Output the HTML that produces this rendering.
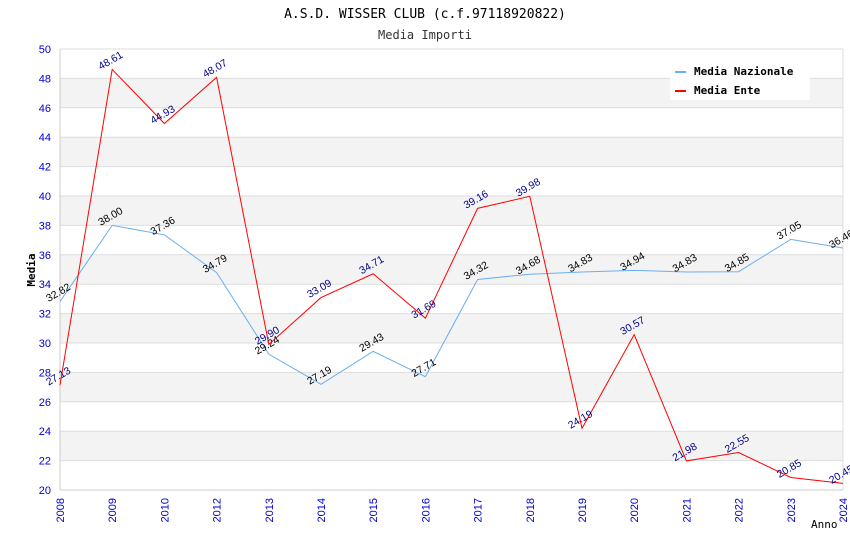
<!DOCTYPE html>
<html><head><meta charset="utf-8"><style>
body{margin:0;background:#fff}
svg{display:block;font-family:"DejaVu Sans Mono","Liberation Mono",monospace}
</style></head><body>
<svg id="c" width="850" height="550">
<text x="425" y="18" text-anchor="middle" font-size="13">A.S.D. WISSER CLUB (c.f.97118920822)</text>
<text x="425" y="39" text-anchor="middle" font-size="12" fill="#333">Media Importi</text>
<g id="bands"></g><g id="grid"></g><g id="axes"></g><g id="series"></g>
<text x="35" y="270" transform="rotate(-90 35 270)" text-anchor="middle" font-size="11" font-weight="bold">Media</text>
<text x="811" y="528" font-size="11">Anno</text>
<g>
<rect x="670" y="60" width="140" height="40" fill="#fff"/>
<line x1="675" y1="72" x2="686" y2="72" stroke="#6aaff0" stroke-width="2"/>
<text x="694" y="75" font-size="11" font-weight="bold">Media Nazionale</text>
<line x1="675" y1="91" x2="686" y2="91" stroke="red" stroke-width="2"/>
<text x="694" y="94" font-size="11" font-weight="bold">Media Ente</text>
</g>
</svg>
<script>
const years=["2008","2009","2010","2012","2013","2014","2015","2016","2017","2018","2019","2020","2021","2022","2023","2024"];
const nazionale=[32.82,38.00,37.36,34.79,29.24,27.19,29.43,27.71,34.32,34.68,34.83,34.94,34.83,34.85,37.05,36.46];
const ente=[27.13,48.61,44.93,48.07,29.90,33.09,34.71,31.69,39.16,39.98,24.19,30.57,21.98,22.55,20.85,20.45];
const yTicks=[20,22,24,26,28,30,32,34,36,38,40,42,44,46,48,50];
const NS="http://www.w3.org/2000/svg";
const L=60,R=843,T=49,B=490;
const xs=i=>L+i*(R-L)/(years.length-1);
const ys=v=>B-(v-20)/30*(B-T);
function mk(t,a,p){const e=document.createElementNS(NS,t);for(const k in a)e.setAttribute(k,a[k]);p.appendChild(e);return e;}
const bands=document.getElementById('bands'),grid=document.getElementById('grid'),axes=document.getElementById('axes'),ser=document.getElementById('series');
mk('rect',{x:L,y:T,width:R-L,height:B-T,fill:'#fff'},bands);
for(let v=22;v<48;v+=4){const r=mk('rect',{x:L,y:ys(v+2),width:R-L,height:ys(v)-ys(v+2),fill:'#f3f3f3'},bands);

}
yTicks.forEach(v=>{mk('line',{x1:L,x2:R,y1:ys(v),y2:ys(v),stroke:'#ddd'},grid);
const t=mk('text',{x:L-9,y:ys(v)+4,'text-anchor':'end','font-size':11,fill:'#00c','font-family':'Liberation Sans,sans-serif'},axes);t.textContent=v;

});
mk('line',{x1:R,x2:R,y1:T,y2:B,stroke:'#ddd'},grid);
mk('line',{x1:L,x2:L,y1:T,y2:B,stroke:'#ccc'},axes);
mk('line',{x1:L,x2:R,y1:B,y2:B,stroke:'#ccc'},axes);
years.forEach((y,i)=>{const x=xs(i);const t=mk('text',{x:x+4,y:B+8,'text-anchor':'end','font-size':11,fill:'#00c','font-family':'Liberation Sans,sans-serif',transform:`rotate(-90 ${x+4} ${B+8})`},axes);t.textContent=y;

});
function series(d,col,lc,name){
const p=mk('polyline',{points:d.map((v,i)=>xs(i)+','+ys(v)).join(' '),fill:'none',stroke:col,'stroke-width':1},ser);


d.forEach((v,i)=>{const x=xs(i),y=ys(v)-6;const t=mk('text',{x:x,y:y,'text-anchor':'middle','font-size':10.5,fill:lc,'font-family':'Liberation Sans,sans-serif',transform:`rotate(-30 ${x} ${y})`},ser);t.textContent=v.toFixed(2);

});}
series(nazionale,'#6aaff0','#000','nazionale');
series(ente,'#f00','#00008b','ente');
</script>
</body></html>
